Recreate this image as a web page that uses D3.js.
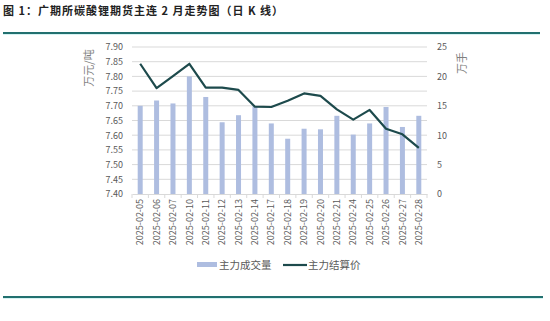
<!DOCTYPE html>
<html>
<head>
<meta charset="utf-8">
<script src="https://cdn.jsdelivr.net/npm/d3@7"></script>
<style>
  body { margin: 0; background: #fff; }
  svg { display: block; }
  text { font-family: "Noto Sans CJK SC", "Noto Sans", sans-serif; }
</style>
</head>
<body>
<script>
// 日期
const dates = ["2025-02-05", "2025-02-06", "2025-02-07", "2025-02-10", "2025-02-11", "2025-02-12",
  "2025-02-13", "2025-02-14", "2025-02-17", "2025-02-18", "2025-02-19", "2025-02-20",
  "2025-02-21", "2025-02-24", "2025-02-25", "2025-02-26", "2025-02-27", "2025-02-28"];
// 主力成交量 (万手)
const volume = [15.0, 15.9, 15.4, 20.0, 16.5, 12.2, 13.4, 14.9, 12.0, 9.4, 11.1, 11.0,
  13.3, 10.1, 12.0, 14.8, 11.4, 13.3];
// 主力结算价 (万元/吨)
const price = [7.843, 7.760, 7.801, 7.843, 7.762, 7.762, 7.754, 7.697, 7.696, 7.717, 7.742, 7.734,
  7.688, 7.653, 7.686, 7.622, 7.603, 7.557];
const leftTicks = [7.40, 7.45, 7.50, 7.55, 7.60, 7.65, 7.70, 7.75, 7.80, 7.85, 7.90];
const rightTicks = [0, 5, 10, 15, 20, 25];

const width = 550, height = 321;
const plot = { left: 132, right: 427, top: 47, bottom: 194 };

const svg = d3.select("body").append("svg")
  .attr("width", width)
  .attr("height", height);

// 标题
svg.append("text")
  .attr("x", 3)
  .attr("y", 15)
  .attr("font-size", 11)
  .attr("font-weight", "bold")
  .attr("letter-spacing", 1)
  .attr("fill", "#222")
  .text("图 1：广期所碳酸锂期货主连 2 月走势图（日 K 线）");

// 上下分隔线
svg.append("rect").attr("x", 3).attr("y", 32).attr("width", 537).attr("height", 3).attr("fill", "#d5f3f3");
svg.append("line").attr("x1", 3).attr("x2", 540).attr("y1", 33).attr("y2", 33)
  .attr("stroke", "#22706f").attr("stroke-width", 2.2);
svg.append("rect").attr("x", 3).attr("y", 296).attr("width", 540).attr("height", 3).attr("fill", "#d5f3f3");
svg.append("line").attr("x1", 3).attr("x2", 543).attr("y1", 297).attr("y2", 297)
  .attr("stroke", "#22706f").attr("stroke-width", 2);

// 比例尺
let x = d3.scaleBand().domain(dates).range([plot.left, plot.right]).padding(0);
let yL = d3.scaleLinear().domain([7.40, 7.90]).range([plot.bottom, plot.top]);
let yR = d3.scaleLinear().domain([0, 25]).range([plot.bottom, plot.top]);

// 网格线
svg.append("g").selectAll("line").data(leftTicks.slice(1)).enter().append("line")
  .attr("x1", plot.left).attr("x2", plot.right)
  .attr("y1", d => yL(d)).attr("y2", d => yL(d))
  .attr("stroke", "#d9d9d9").attr("stroke-width", 1);

// 左轴
let gL = svg.append("g").attr("transform", "translate(123,0)")
  .call(d3.axisLeft(yL).tickValues(leftTicks).tickSize(0).tickPadding(0).tickFormat(d3.format(".2f")));
gL.select(".domain").remove();
gL.selectAll("text").attr("font-size", 9).attr("fill", "#595959")
  .attr("font-family", "'Open Sans', sans-serif");

// 右轴
let gR = svg.append("g").attr("transform", "translate(437,0)")
  .call(d3.axisRight(yR).tickValues(rightTicks).tickSize(0).tickPadding(0));
gR.select(".domain").remove();
gR.selectAll("text").attr("font-size", 9).attr("fill", "#595959")
  .attr("font-family", "'Open Sans', sans-serif");

// 轴标题
svg.append("text")
  .attr("transform", "translate(93,68) rotate(-90)")
  .attr("text-anchor", "middle")
  .attr("font-size", 11).attr("fill", "#7f7f7f")
  .text("万元/吨");
svg.append("text")
  .attr("transform", "translate(466,63) rotate(-90)")
  .attr("text-anchor", "middle")
  .attr("font-size", 11).attr("fill", "#7f7f7f")
  .text("万手");

// 柱子
const barW = 5;
svg.append("g").selectAll("rect").data(volume).enter().append("rect")
  .attr("x", (d, i) => x(dates[i]) + x.bandwidth() / 2 - barW / 2)
  .attr("y", d => yR(d))
  .attr("width", barW)
  .attr("height", d => yR(0) - yR(d))
  .attr("fill", "#aebde0");

// X 轴
let gX = svg.append("g").attr("transform", `translate(0,${plot.bottom})`)
  .call(d3.axisBottom(x).tickSize(0).tickPadding(0));
gX.select(".domain").attr("stroke", "#d9d9d9");
gX.selectAll(".tick text")
  .attr("font-size", 9).attr("fill", "#595959")
  .attr("font-family", "'Open Sans', sans-serif")
  .attr("transform", "rotate(-90)")
  .attr("text-anchor", "end")
  .attr("dy", "0.35em")
  .attr("x", -5)
  .attr("y", 0);
// 分类间刻度
svg.append("g").selectAll("line").data(dates.concat(["end"])).enter().append("line")
  .attr("x1", (d, i) => plot.left + i * x.step())
  .attr("x2", (d, i) => plot.left + i * x.step())
  .attr("y1", plot.bottom).attr("y2", plot.bottom + 4)
  .attr("stroke", "#d9d9d9");

// 折线
let line = d3.line()
  .x((d, i) => x(dates[i]) + x.bandwidth() / 2)
  .y(d => yL(d));
svg.append("path")
  .attr("d", line(price))
  .attr("fill", "none")
  .attr("stroke", "#1d4a4c")
  .attr("stroke-width", 2.2)
  .attr("stroke-linejoin", "round");

// 图例
let lg = svg.append("g");
lg.append("rect").attr("x", 197).attr("y", 262).attr("width", 20).attr("height", 5).attr("fill", "#aebde0");
lg.append("text").attr("x", 219).attr("y", 269).attr("font-size", 10.5).attr("fill", "#595959").text("主力成交量");
lg.append("line").attr("x1", 283).attr("x2", 307).attr("y1", 265).attr("y2", 265)
  .attr("stroke", "#1d4a4c").attr("stroke-width", 2.2);
lg.append("text").attr("x", 308).attr("y", 269).attr("font-size", 10.5).attr("fill", "#595959").text("主力结算价");
</script>
</body>
</html>
